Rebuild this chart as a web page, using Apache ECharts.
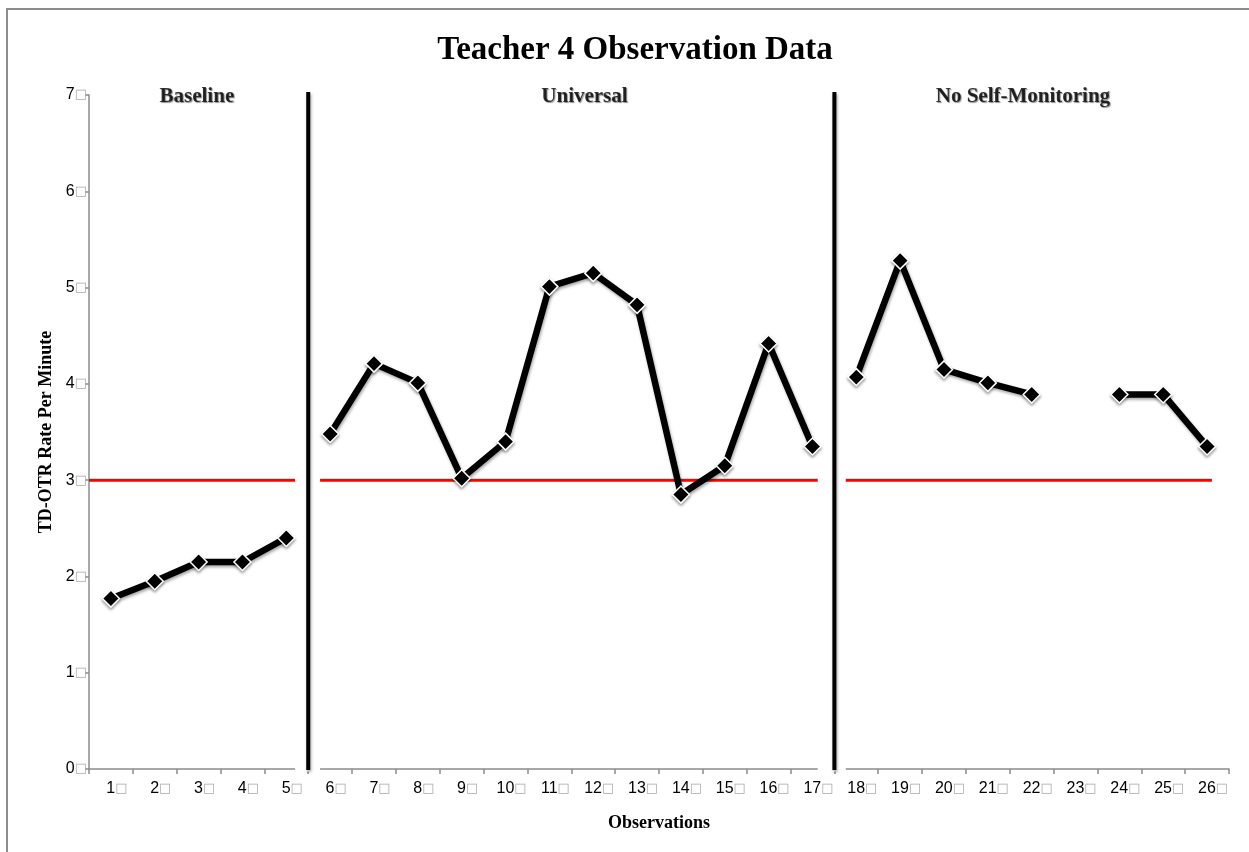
<!DOCTYPE html>
<html>
<head>
<meta charset="utf-8">
<script src="https://cdn.jsdelivr.net/npm/echarts@6/dist/echarts.min.js"></script>
<style>
  html, body { margin: 0; padding: 0; background: #fff; }
  #chart { width: 1249px; height: 852px; }
</style>
</head>
<body>
<div id="chart"></div>
<script>
// observations 1..26
var observations = ['1','2','3','4','5','6','7','8','9','10','11','12','13','14','15','16','17','18','19','20','21','22','23','24','25','26'];
var baseline    = [1.77, 1.95, 2.15, 2.15, 2.40];
var universal   = [3.48, 4.21, 4.01, 3.02, 3.40, 5.01, 5.15, 4.82, 2.85, 3.15, 4.42, 3.35];
var noSelfMon   = [4.07, 5.28, 4.15, 4.01, 3.89, null, 3.89, 3.89, 3.35];
var yTicks = [0, 1, 2, 3, 4, 5, 6, 7];

var phaseNames   = ['Baseline', 'Universal', 'No Self-Monitoring'];
var phaseLabelAt = [2.46, 11.3, 21.3];
var phaseBreaks  = [5, 17];
var criterion = 3;
var criterionSegments = [[0, 4.7], [5.27, 16.62], [17.26, 25.61]];

var chartDom = document.getElementById('chart');
var myChart = echarts.init(chartDom);
var option;

// pad each phase into a 26 slot array so it lines up on the category axis
function place(values, start) {
  var out = [];
  for (var i = 0; i < observations.length; i++) out.push(null);
  values.forEach(function (v, i) { out[start + i] = v; });
  return out;
}

var serifBold = { fontFamily: 'Liberation Serif', fontWeight: 'bold', color: '#000' };

var dataStyle = {
  type: 'line',
  xAxisIndex: 0,
  symbol: 'diamond',
  symbolSize: 17,
  connectNulls: false,
  z: 5,
  lineStyle: { color: '#000', width: 6.5, shadowColor: 'rgba(0,0,0,0.35)', shadowBlur: 3, shadowOffsetX: 1, shadowOffsetY: 2 },
  itemStyle: { color: '#000', borderColor: '#fff', borderWidth: 1.5, shadowColor: 'rgba(0,0,0,0.35)', shadowBlur: 3, shadowOffsetY: 2 }
};

var series = [];

// gaps in the x axis around the phase change lines
criterionSegments.slice(0, 2).forEach(function (seg, i) {
  series.push({
    type: 'line', xAxisIndex: 1, silent: true, symbol: 'none', clip: false, z: 1,
    lineStyle: { color: '#fff', width: 5 },
    data: [[seg[1], 0], [criterionSegments[i + 1][0], 0]]
  });
});

// criterion lines
criterionSegments.forEach(function (seg) {
  series.push({
    type: 'line', xAxisIndex: 1, silent: true, symbol: 'none', z: 3,
    lineStyle: { color: '#ff0000', width: 3 },
    data: [[seg[0], criterion], [seg[1], criterion]]
  });
});

// phase change lines
phaseBreaks.forEach(function (x) {
  series.push({
    type: 'line', xAxisIndex: 1, silent: true, symbol: 'none', clip: false, z: 4,
    lineStyle: { color: '#000', width: 4, shadowColor: 'rgba(0,0,0,0.35)', shadowBlur: 3, shadowOffsetX: 1, shadowOffsetY: 2 },
    data: [[x, -0.01], [x, 7.03]]
  });
});

series.push(Object.assign({ name: 'Baseline', data: place(baseline, 0) }, dataStyle));
series.push(Object.assign({ name: 'Universal', data: place(universal, 5) }, dataStyle));
series.push(Object.assign({ name: 'No Self-Monitoring', data: place(noSelfMon, 17) }, dataStyle));

// phase headings
series.push({
  type: 'scatter', xAxisIndex: 1, silent: true, symbolSize: 0, z: 6,
  label: {
    show: true, position: 'inside', formatter: '{b}',
    fontFamily: 'Liberation Serif', fontWeight: 'bold', fontSize: 21, color: '#000',
    textShadowColor: 'rgba(0,0,0,0.55)', textShadowBlur: 1, textShadowOffsetX: 1, textShadowOffsetY: 1
  },
  data: phaseNames.map(function (n, i) { return { name: n, value: [phaseLabelAt[i], 6.98] }; })
});

option = {
  animation: false,
  backgroundColor: '#fff',
  title: {
    text: 'Teacher 4 Observation Data',
    left: 630,
    top: 29,
    textAlign: 'center',
    textStyle: Object.assign({ fontSize: 33 }, serifBold)
  },
  graphic: [{
    type: 'rect', silent: true,
    shape: { x: 7, y: 9, width: 1300, height: 900 },
    style: { fill: 'none', stroke: '#8c8c8c', lineWidth: 2 }
  }],
  grid: { left: 89, right: 20, top: 95, bottom: 83 },
  xAxis: [
    {
      type: 'category',
      data: observations,
      boundaryGap: true,
      name: 'Observations',
      nameLocation: 'middle',
      nameGap: 45,
      nameTextStyle: Object.assign({ fontSize: 18 }, serifBold),
      axisLine: { lineStyle: { color: '#8c8c8c', width: 1.5 } },
      axisTick: { show: true, alignWithLabel: false, length: 5, lineStyle: { color: '#8c8c8c', width: 1.5 } },
      axisLabel: {
        interval: 0,
        margin: 12,
        padding: [0, 0, 0, 12],
        fontFamily: 'Liberation Sans',
        fontSize: 16,
        color: '#000',
        formatter: function (v) { return v + '{b|□}'; },
        rich: { b: { color: '#aaa', fontSize: 13, fontFamily: 'DejaVu Sans' } }
      },
      splitLine: { show: false }
    },
    { type: 'value', min: 0, max: 26, show: false }
  ],
  yAxis: {
    type: 'value',
    min: 0,
    max: 7,
    interval: 1,
    name: 'TD-OTR Rate Per Minute',
    nameLocation: 'middle',
    nameRotate: 90,
    nameGap: 33,
    nameTextStyle: Object.assign({ fontSize: 18 }, serifBold),
    axisLine: { show: true, lineStyle: { color: '#8c8c8c', width: 1.5 } },
    axisTick: { show: true, length: 4, lineStyle: { color: '#8c8c8c', width: 1.5 } },
    axisLabel: {
      margin: 2,
      fontFamily: 'Liberation Sans',
      fontSize: 16,
      color: '#000',
      formatter: function (v) { return yTicks.indexOf(v) >= 0 ? v + '{b|□}' : ''; },
      rich: { b: { color: '#aaa', fontSize: 13, fontFamily: 'DejaVu Sans' } }
    },
    splitLine: { show: false }
  },
  series: series
};

option && myChart.setOption(option);
</script>
</body>
</html>
